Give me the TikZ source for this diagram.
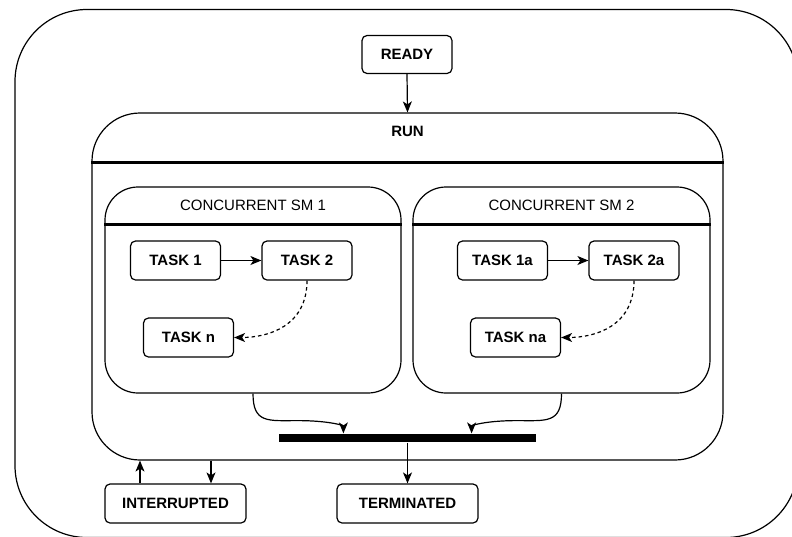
\documentclass[tikz,border=0pt]{standalone}
\usepackage{fontspec}
\setmainfont{Liberation Sans}
\usetikzlibrary{arrows.meta,calc}
\begin{document}
\begin{tikzpicture}[x=1pt,y=-1pt,line width=1.2pt,
  container/.style={draw,inner sep=0pt},
  task/.style={draw,rounded corners=5pt,minimum width=90pt,minimum height=39pt,
    inner sep=0pt,font=\fontsize{15}{18}\selectfont\bfseries},
  boldlabel/.style={inner sep=0pt,font=\fontsize{15}{18}\selectfont\bfseries},
  plainlabel/.style={inner sep=0pt,font=\fontsize{15}{18}\selectfont},
  divider/.style={line width=3pt},
  arr/.style={-{Stealth[length=11pt,width=9pt,inset=3pt]}},
  dasharr/.style={arr,dash pattern=on 3.5pt off 3pt},
]
\useasboundingbox (0,0) rectangle (792,536);

% outer state
\node[container,rounded corners=72pt,minimum width=783pt,minimum height=528pt]
  (outer) at (406.5,273.5) {};

% initial state
\node[task,minimum height=38pt] (ready) at (407,54.5) {READY};

% RUN composite state
\node[container,rounded corners=48pt,minimum width=631pt,minimum height=347pt]
  (run) at (407.5,286.5) {};
\node[boldlabel] (runlbl) at (407.5,131) {RUN};
\draw[divider] (run.west |- 0,162) -- (run.east |- 0,162);

% concurrent regions
\node[container,rounded corners=33pt,minimum width=296pt,minimum height=206pt]
  (sm1) at (253,290) {};
\node[plainlabel] (sm1lbl) at (253,205) {CONCURRENT SM 1};
\draw[divider] (sm1.west |- 0,224) -- (sm1.east |- 0,224);

\node[container,rounded corners=33pt,minimum width=297pt,minimum height=206pt]
  (sm2) at (561.5,290) {};
\node[plainlabel] (sm2lbl) at (561.5,205) {CONCURRENT SM 2};
\draw[divider] (sm2.west |- 0,224) -- (sm2.east |- 0,224);

% tasks
\node[task] (t1) at (175.5,260.5) {TASK 1};
\node[task] (t2) at (307,260.5) {TASK 2};
\node[task] (tn) at (188.5,337.5) {TASK n};
\node[task] (t1a) at (502.5,260.5) {TASK 1a};
\node[task] (t2a) at (634,260.5) {TASK 2a};
\node[task] (tna) at (515.5,337.5) {TASK na};

% join bar
\node[fill=black,inner sep=0pt,minimum width=257pt,minimum height=8pt]
  (join) at (407.5,438) {};
\coordinate (joinL) at ([xshift=65pt]join.north west);
\coordinate (joinR) at ([xshift=-65pt]join.north east);

% final states
\node[task,minimum width=141pt] (intr) at (175.5,503.5) {INTERRUPTED};
\node[task,minimum width=141pt] (term) at (407.5,503.5) {TERMINATED};

% transitions
\draw[arr] (ready.south) -- (run.north);
\draw[arr] (t1.east) -- (t2.west);
\draw[dasharr] (t2.south) .. controls +(0,45) and +(35,0) .. (tn.east);
\draw[arr] (t1a.east) -- (t2a.west);
\draw[dasharr] (t2a.south) .. controls +(0,45) and +(35,0) .. (tna.east);

% regions joining
\draw[arr] (sm1.south) .. controls +(0,30) and +(-30,0) .. ++(45,27)
  .. controls +(30,0) and +(0,-8) .. (joinL);
\draw[arr] (sm2.south) .. controls +(0,30) and +(30,0) .. ++(-45,27)
  .. controls +(-30,0) and +(0,-8) .. (joinR);

\draw[arr] (join.south) -- (term.north);
\draw[arr] ([xshift=-35.5pt]intr.north) -- ([xshift=-35.5pt]intr.north |- run.south);
\draw[arr] ([xshift=35.5pt]intr.north |- run.south) -- ([xshift=35.5pt]intr.north);
\end{tikzpicture}
\end{document}
